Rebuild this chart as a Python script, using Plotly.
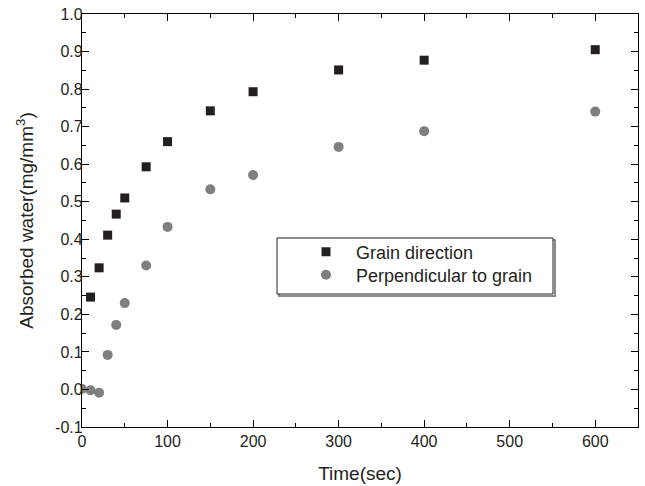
import plotly.graph_objects as go

time_grain = [10, 20, 30, 40, 50, 75, 100, 150, 200, 300, 400, 600]
water_grain = [0.246, 0.324, 0.411, 0.467, 0.510, 0.593, 0.660, 0.742, 0.793, 0.851, 0.877, 0.905]

time_perp = [0, 10, 20, 30, 40, 50, 75, 100, 150, 200, 300, 400, 600]
water_perp = [0.001, -0.002, -0.009, 0.092, 0.172, 0.230, 0.330, 0.433, 0.533, 0.571, 0.646, 0.688, 0.740]

x_ticks = [0, 100, 200, 300, 400, 500, 600]
y_ticks = [-0.1, 0.0, 0.1, 0.2, 0.3, 0.4, 0.5, 0.6, 0.7, 0.8, 0.9, 1.0]
y_labels = ["%.1f" % v for v in y_ticks]

NB = "\u00a0"
FONT = "Liberation Sans, Arial, sans-serif"
INK = "#231f20"

fig = go.Figure()
fig.add_trace(go.Scatter(
    x=time_grain, y=water_grain, mode="markers", name=NB * 2 + "Grain direction",
    marker=dict(symbol="square", size=9, color=INK), legend="legend",
))
fig.add_trace(go.Scatter(
    x=time_perp, y=water_perp, mode="markers", name=NB * 2 + "Perpendicular to grain",
    marker=dict(symbol="circle", size=10, color="#7f7f7f"), legend="legend2",
))

axis_common = dict(
    showline=True, linecolor="black", linewidth=1.3, mirror="ticks",
    ticks="inside", ticklen=7, tickwidth=1.2, tickcolor="black",
    showgrid=False, zeroline=False, automargin=False, ticklabeloverflow="allow",
    tickfont=dict(family=FONT, size=16, color=INK),
)

fig.update_xaxes(
    range=[0, 650], tickvals=x_ticks,
    minor=dict(dtick=50, ticks="inside", ticklen=4, tickwidth=1, tickcolor="black"),
    title=dict(text="Time(sec)", font=dict(family=FONT, size=19, color=INK), standoff=17),
    **axis_common,
)
fig.update_yaxes(
    range=[-0.1, 1.0], tickvals=y_ticks, ticktext=y_labels, ticklabelstandoff=-5,
    minor=dict(dtick=0.05, ticks="inside", ticklen=4, tickwidth=1, tickcolor="black"),
    title=dict(text="Absorbed water(mg/mm<sup>3</sup>)", font=dict(family=FONT, size=19, color=INK), standoff=16),
    **axis_common,
)

# legend frame (shadow + border), in plot-fraction coordinates
fig.add_shape(type="rect", xref="paper", yref="paper",
              x0=(279 - 82) / 556, x1=(555 - 82) / 556,
              y0=(427 - 296) / 413, y1=(427 - 240) / 413,
              line=dict(color="#8a8a8a", width=2), fillcolor="rgba(0,0,0,0)", layer="below")
fig.add_shape(type="rect", xref="paper", yref="paper",
              x0=(277 - 82) / 556, x1=(553 - 82) / 556,
              y0=(427 - 294) / 413, y1=(427 - 238) / 413,
              line=dict(color=INK, width=1), fillcolor="white", layer="below")

legend_common = dict(
    xanchor="left", yanchor="middle",
    bgcolor="rgba(0,0,0,0)", borderwidth=0,
    font=dict(family=FONT, size=18, color=INK),
)

fig.update_layout(
    width=645, height=486,
    margin=dict(l=82, r=7, t=14, b=59),
    paper_bgcolor="white", plot_bgcolor="white",
    showlegend=True,
    legend=dict(x=(306 - 82) / 556, y=(427 - 252) / 413, **legend_common),
    legend2=dict(x=(306 - 82) / 556, y=(427 - 275) / 413, **legend_common),
)

fig.write_html(
    "out.html",
    config={"displayModeBar": False},
    post_script="document.body.style.margin='0';document.body.style.overflow='hidden';",
)
